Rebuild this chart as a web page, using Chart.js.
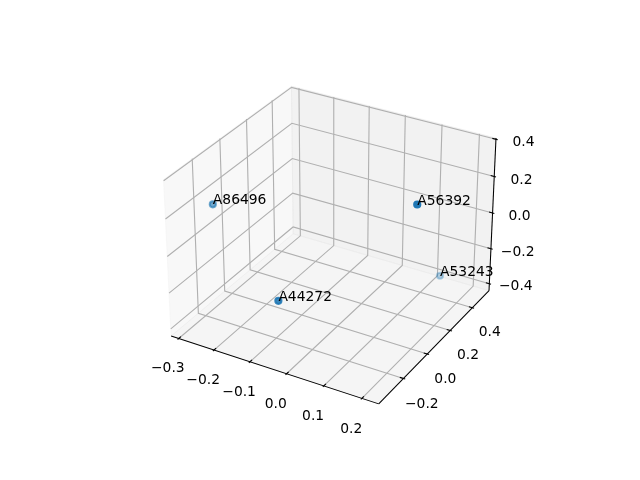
<!DOCTYPE html>
<html><head><meta charset="utf-8">
<script src="https://cdn.jsdelivr.net/npm/chart.js@4/dist/chart.umd.min.js"></script>
<style>html,body{margin:0;padding:0;background:#fff}</style>
</head><body>
<canvas id="c" width="640" height="480"></canvas>
<script>
// ---- data ----
const pointLabels = ['A86496', 'A44272', 'A56392', 'A53243'];
const xValues = [-0.296, -0.035, 0.218, 0.120];
const yValues = [-0.131, -0.356, -0.034, 0.512];
const zValues = [0.139, -0.093, 0.368, -0.402];
const xTicks = [-0.3, -0.2, -0.1, 0.0, 0.1, 0.2];
const yTicks = [-0.2, 0.0, 0.2, 0.4];
const zTicks = [-0.4, -0.2, 0.0, 0.2, 0.4];

// ---- 3D view (matplotlib-like defaults) ----
const ELEV = 30, AZIM = -60, DIST = 10;
function lims(vals) { const mn = Math.min(...vals), mx = Math.max(...vals), r = mx - mn; return [mn - 0.05 * r, mx + 0.05 * r]; }
const L = [lims(xValues), lims(yValues), lims(zValues)];
let box = [4, 4, 3];
const bn = Math.hypot(...box);
box = box.map(v => v * 1.8294640721620434 * 25 / 24 / bn);
const R = box.map(v => v / 2);
const el = ELEV * Math.PI / 180, az = AZIM * Math.PI / 180;
const W = [Math.cos(el) * Math.cos(az), Math.cos(el) * Math.sin(az), Math.sin(el)];
const E = R.map((r, i) => r + DIST * W[i]);
let U = [-W[1], W[0], 0];
const un = Math.hypot(...U); U = U.map(v => v / un);
const V = [W[1] * U[2] - W[2] * U[1], W[2] * U[0] - W[0] * U[2], W[0] * U[1] - W[1] * U[0]];
const dot = (a, b) => a[0] * b[0] + a[1] * b[1] + a[2] * b[2];
function proj(c) {
  const p = c.map((v, i) => (v - L[i][0]) / (L[i][1] - L[i][0]) * box[i]);
  const q = p.map((v, i) => v - E[i]);
  const a = dot(U, q), b = dot(V, q), cw = dot(W, q);
  return { x: a / (-cw), y: b / (-cw), zs: -10 / (-cw) };
}

const pts = xValues.map((x, i) => proj([x, yValues[i], zValues[i]]));
const zsArr = pts.map(p => p.zs);
const zsMin = Math.min(...zsArr), zsMax = Math.max(...zsArr);
const colors = zsArr.map(z => `rgba(31,119,180,${(1 - (z - zsMin) / (zsMax - zsMin) * 0.7).toFixed(3)})`);

const FONT = (10 * 100 / 72).toFixed(2) + 'px "DejaVu Sans"';
const fmt = v => (v < 0 ? '\u2212' : '') + Math.abs(v).toFixed(1);

// pane side (farther plane) per axis
const paneAt = [0, 1, 2].map(i => {
  const c1 = L.map(l => (l[0] + l[1]) / 2), c2 = c1.slice();
  c1[i] = L[i][0]; c2[i] = L[i][1];
  return proj(c1).zs > proj(c2).zs ? L[i][0] : L[i][1];
});
const opp = i => (paneAt[i] === L[i][0] ? L[i][1] : L[i][0]);
const paneColors = ['rgba(242,242,242,0.5)', 'rgba(230,230,230,0.5)', 'rgba(236,236,236,0.5)'];
const ticksAll = [xTicks, yTicks, zTicks];
// axis edge definitions for this view: fixed coords of the other two axes
const edgeFix = [
  { 1: () => opp(1), 2: () => paneAt[2] },
  { 0: () => opp(0), 2: () => paneAt[2] },
  { 0: () => opp(0), 1: () => paneAt[1] }
];
const tickDir = [1, 0, 0];

const axes3d = {
  id: 'axes3d',
  beforeDatasetsDraw(chart) {
    const ctx = chart.ctx, sx = chart.scales.x, sy = chart.scales.y;
    const P = c => { const p = proj(c); return [sx.getPixelForValue(p.x), sy.getPixelForValue(p.y)]; };
    const line = (pp, color, lw) => {
      ctx.beginPath(); ctx.moveTo(...pp[0]); for (let k = 1; k < pp.length; k++) ctx.lineTo(...pp[k]);
      ctx.strokeStyle = color; ctx.lineWidth = lw; ctx.stroke();
    };
    ctx.save();
    // panes
    for (let i = 0; i < 3; i++) {
      const j = (i + 1) % 3, k = (i + 2) % 3;
      const corners = [[0, 0], [1, 0], [1, 1], [0, 1]].map(([a, b]) => {
        const c = [0, 0, 0]; c[i] = paneAt[i]; c[j] = L[j][a]; c[k] = L[k][b]; return P(c);
      });
      ctx.beginPath(); ctx.moveTo(...corners[0]); corners.slice(1).forEach(p => ctx.lineTo(...p)); ctx.closePath();
      ctx.fillStyle = paneColors[i]; ctx.fill();
      ctx.strokeStyle = paneColors[i]; ctx.lineWidth = 1; ctx.stroke();
    }
    // grid lines
    for (let i = 0; i < 3; i++) {
      const j = (i + 1) % 3, k = (i + 2) % 3;
      for (const t of ticksAll[i]) {
        const a = [0, 0, 0], b = [0, 0, 0], c = [0, 0, 0];
        a[i] = b[i] = c[i] = t;
        a[j] = opp(j); a[k] = paneAt[k];
        b[j] = paneAt[j]; b[k] = paneAt[k];
        c[j] = paneAt[j]; c[k] = opp(k);
        line([P(a), P(b), P(c)], '#b0b0b0', 0.8 * 100 / 72);
      }
    }
    // axis lines, ticks, tick labels
    const centers = L.map(l => (l[0] + l[1]) / 2);
    const deltas = L.map(l => (l[1] - l[0]) / 12);
    const axPts = 72 * (chart.chartArea.width + chart.chartArea.height) / 100;
    const labFac = (3.5 + 8) * 48 / axPts;
    for (let i = 0; i < 3; i++) {
      const base = [0, 0, 0];
      for (const key in edgeFix[i]) base[+key] = edgeFix[i][key]();
      const s = base.slice(), e = base.slice(); s[i] = L[i][0]; e[i] = L[i][1];
      line([P(s), P(e)], '#000', 0.75 * 100 / 72);
      const td = tickDir[i];
      const inward = base[td] < centers[td] ? 1 : -1;
      ctx.font = FONT; ctx.fillStyle = '#000'; ctx.textAlign = 'center'; ctx.textBaseline = 'alphabetic';
      for (const t of ticksAll[i]) {
        const p1 = base.slice(), p2 = base.slice();
        p1[i] = p2[i] = t;
        p1[td] = base[td] + inward * 0.2 * deltas[td];
        p2[td] = base[td] - inward * 0.1 * deltas[td];
        line([P(p1), P(p2)], '#000', 0.8 * 100 / 72);
        const lp = base.slice(); lp[i] = t;
        for (let m = 0; m < 3; m++) if (m !== i) lp[m] = lp[m] + Math.sign(lp[m] - centers[m]) * labFac * deltas[m];
        const [lx, ly] = P(lp);
        ctx.fillText(fmt(t), lx, ly + 10.56);
      }
    }
    ctx.restore();
  },
  afterDatasetsDraw(chart) {
    const ctx = chart.ctx, sx = chart.scales.x, sy = chart.scales.y;
    ctx.save();
    ctx.font = FONT; ctx.fillStyle = '#000'; ctx.textAlign = 'left'; ctx.textBaseline = 'alphabetic';
    pts.forEach((p, i) => ctx.fillText(pointLabels[i], sx.getPixelForValue(p.x), sy.getPixelForValue(p.y)));
    ctx.restore();
  }
};

new Chart(document.getElementById('c'), {
  type: 'scatter',
  data: {
    datasets: [{
      data: pts.map(p => ({ x: p.x, y: p.y })),
      pointRadius: 3.1,
      pointBorderWidth: 2.0,
      pointBackgroundColor: colors,
      pointBorderColor: colors,
      pointHoverRadius: 3.1
    }]
  },
  options: {
    responsive: false,
    devicePixelRatio: 1,
    animation: false,
    events: [],
    layout: { padding: { left: 143.2, right: 127.2, top: 57.6, bottom: 52.8 } },
    scales: {
      x: { type: 'linear', min: -0.095, max: 0.09, display: false },
      y: { type: 'linear', min: -0.095, max: 0.09, display: false }
    },
    plugins: { legend: { display: false }, tooltip: { enabled: false } }
  },
  plugins: [axes3d]
});
</script>
</body></html>
